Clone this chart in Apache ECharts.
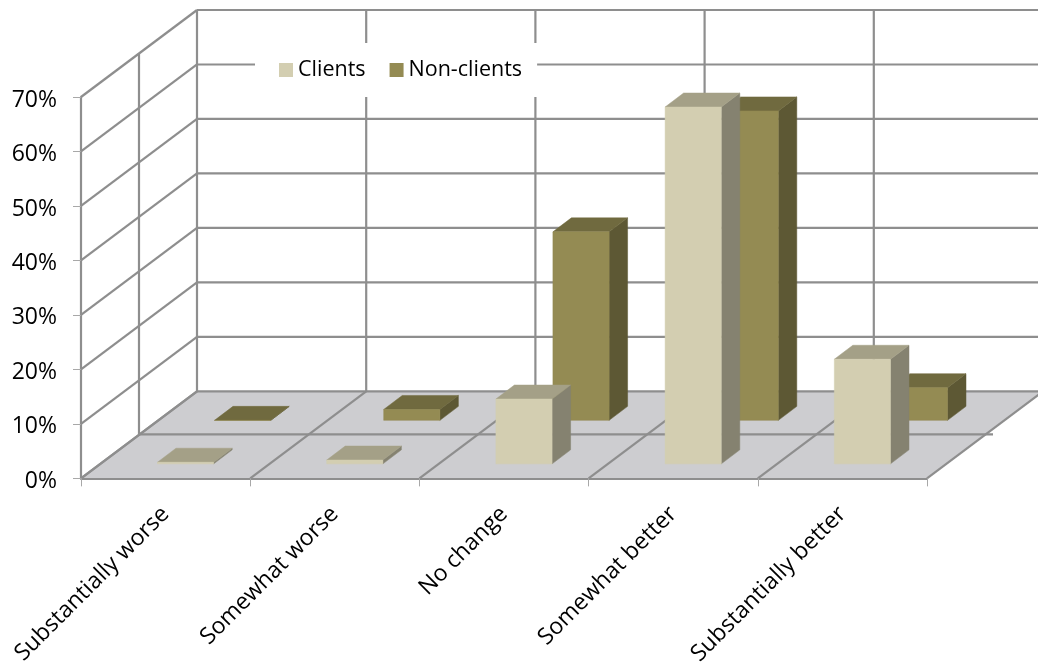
<!DOCTYPE html>
<html>
<head>
<meta charset="utf-8">
<style>html,body{margin:0;padding:0;background:#fff}#c{width:1038px;height:668px}</style>
<script src="https://cdn.jsdelivr.net/npm/echarts@6/dist/echarts.min.js"></script>
</head>
<body>
<div id="c"></div>
<script>
const categories = ['Substantially worse', 'Somewhat worse', 'No change', 'Somewhat better', 'Substantially better'];
const clients = [0.3, 0.7, 11.9, 65.5, 19.2];
const nonClients = [0, 2, 34.6, 56.8, 6];
const yTicks = [0, 10, 20, 30, 40, 50, 60, 70];

const FONT = '"Open Sans", sans-serif';
const GRID = '#8e8e8e';
const DEPTH = { dx: 116, dy: -87 };       // full wall depth in pixels
const BAR_DEPTH = { dx: 18.5, dy: -14 };  // depth of one bar
const BAR_RATIO = 0.332;
const PAL = {
  clients: { front: '#d3ceb1', top: '#a4a087', side: '#858270' },
  non: { front: '#948b53', top: '#706a3f', side: '#5d5834' }
};

function line(x1, y1, x2, y2, w) {
  return { type: 'line', silent: true, shape: { x1, y1, x2, y2 }, style: { stroke: GRID, lineWidth: w || 2.2 } };
}
function poly(points, fill) {
  return { type: 'polygon', shape: { points }, style: { fill, stroke: fill, lineWidth: 0.5 } };
}

function renderFrame(params, api) {
  const band = api.size([1, 0])[0];
  const p0 = api.coord([0, 0]);
  const left = p0[0] - band / 2, base = p0[1];
  const n = categories.length;
  const right = left + band * n;
  const top = api.coord([0, yTicks[yTicks.length - 1]])[1];
  const d = DEPTH;
  const mid = { dx: 58, dy: -44 };
  const kids = [];
  kids.push({ type: 'polygon', shape: { points: [[left, base], [right, base], [right + d.dx, base + d.dy], [left + d.dx, base + d.dy]] }, style: { fill: '#cdcdd0' } });
  yTicks.forEach(t => {
    const y = api.coord([0, t])[1];
    kids.push(line(left, y, left + d.dx, y + d.dy));
    kids.push(line(left + d.dx, y + d.dy, right + d.dx, y + d.dy));
  });
  for (let i = 0; i <= n; i++) {
    const x = left + band * i;
    kids.push(line(x, base, x + d.dx, base + d.dy));
    kids.push(line(x + d.dx, base + d.dy, x + d.dx, top + d.dy));
  }
  kids.push(line(left, base, left, top));
  kids.push(line(left + mid.dx, base + mid.dy, left + mid.dx, top + mid.dy));
  kids.push(line(left + mid.dx, base + mid.dy, right + mid.dx + 8, base + mid.dy));
  return { type: 'group', children: kids };
}

function barRenderer(pal, off) {
  return function (params, api) {
    const cat = api.value(0), val = api.value(1);
    const band = api.size([1, 0])[0];
    const w = band * BAR_RATIO;
    const c = api.coord([cat, val]), b = api.coord([cat, 0]);
    const x0 = c[0] - w / 2 + off.dx, x1 = x0 + w;
    const yT = c[1] + off.dy, yB = b[1] + off.dy;
    const dx = BAR_DEPTH.dx, dy = BAR_DEPTH.dy;
    return {
      type: 'group',
      children: [
        poly([[x1, yB], [x1 + dx, yB + dy], [x1 + dx, yT + dy], [x1, yT]], pal.side),
        poly([[x0, yT], [x1, yT], [x1 + dx, yT + dy], [x0 + dx, yT + dy]], pal.top),
        poly([[x0, yB], [x1, yB], [x1, yT], [x0, yT]], pal.front)
      ]
    };
  };
}

const chart = echarts.init(document.getElementById('c'), null, { renderer: 'canvas' });
chart.setOption({
  animation: false,
  backgroundColor: '#ffffff',
  grid: { left: 81, right: 111, top: 97, bottom: 189, containLabel: false },
  legend: {
    data: ['Clients', 'Non-clients'],
    left: 255, top: 43,
    padding: [16, 15, 16, 24],
    backgroundColor: '#ffffff',
    itemWidth: 14, itemHeight: 14, itemGap: 24,
    icon: 'rect',
    z: 10,
    selectedMode: false,
    textStyle: { fontFamily: FONT, fontSize: 21.5, color: '#000' }
  },
  xAxis: {
    type: 'category',
    data: categories,
    z: 5,
    axisLine: { lineStyle: { color: GRID, width: 2 } },
    axisTick: { show: true, length: 8, lineStyle: { color: '#a8a8a8', width: 1 } },
    axisLabel: { rotate: 45, interval: 0, margin: 32, fontFamily: FONT, fontSize: 23, color: '#000' }
  },
  yAxis: {
    type: 'value',
    min: 0, max: 70, interval: 10,
    z: 5,
    splitLine: { show: false },
    axisLine: { show: true, lineStyle: { color: GRID, width: 2 } },
    axisTick: { show: true, length: 8, lineStyle: { color: '#a8a8a8', width: 1 } },
    axisLabel: { formatter: '{value}%', margin: 24, verticalAlign: 'top', lineHeight: 6, fontFamily: FONT, fontSize: 23, color: '#000' }
  },
  series: [
    { type: 'custom', name: 'frame', silent: true, z: 1, renderItem: renderFrame, data: [[0, 0]], encode: { x: 0, y: 1 } },
    { type: 'custom', name: 'Non-clients', z: 3, itemStyle: { color: PAL.non.front },
      renderItem: barRenderer(PAL.non, { dx: 77, dy: -58 }),
      data: nonClients.map((v, i) => [i, v]), encode: { x: 0, y: 1 } },
    { type: 'custom', name: 'Clients', z: 4, itemStyle: { color: PAL.clients.front },
      renderItem: barRenderer(PAL.clients, { dx: 20, dy: -14.5 }),
      data: clients.map((v, i) => [i, v]), encode: { x: 0, y: 1 } }
  ]
});
</script>
</body>
</html>
